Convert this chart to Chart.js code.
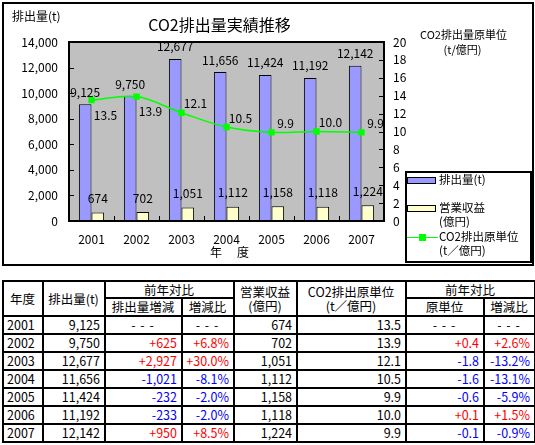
<!DOCTYPE html>
<html lang="ja">
<head>
<meta charset="utf-8">
<title>CO2排出量実績推移</title>
<script src="https://cdn.jsdelivr.net/npm/chart.js@4.4.1/dist/chart.umd.min.js"></script>
<style>
  body { margin: 0; background: #fff; font-family: "Noto Sans CJK JP", sans-serif; }
  #wrap { position: relative; width: 535px; height: 445px; }
  #chart { position: absolute; left: 0; top: 0; }
  table {
    position: absolute; left: 2px; top: 280px; width: 532px;
    border-collapse: separate; border-spacing: 0; table-layout: fixed;
    border-left: 2px solid #000; border-top: 2px solid #000;
    font-size: 12.5px; color: #000;
  }
  td, th {
    border-right: 2px solid #000; border-bottom: 2px solid #000;
    padding: 0 4px 0 3px; line-height: 14px; font-weight: normal;
    white-space: nowrap; text-align: right;
  }
  th { text-align: center; }
  tr { height: 18px; }
  tr.h1 { height: 17px; }
  td.year { text-align: left; }
  td.none { text-align: center; letter-spacing: 1px; }
  .up { color: #ff0000; }
  .down { color: #0000ff; }
</style>
</head>
<body>
<div id="wrap">
  <canvas id="chart" width="535" height="270"></canvas>
  <table id="tbl">
    <colgroup>
      <col style="width:40px"><col style="width:62px"><col style="width:77px"><col style="width:52px">
      <col style="width:63px"><col style="width:109px"><col style="width:78px"><col style="width:51px">
    </colgroup>
    <thead>
      <tr class="h1">
        <th rowspan="2">年度</th>
        <th rowspan="2">排出量(t)</th>
        <th colspan="2">前年対比</th>
        <th rowspan="2">営業収益<br>(億円)</th>
        <th rowspan="2">CO2排出原単位<br>(t／億円)</th>
        <th colspan="2">前年対比</th>
      </tr>
      <tr>
        <th>排出量増減</th><th>増減比</th><th>原単位</th><th>増減比</th>
      </tr>
    </thead>
    <tbody id="rows"></tbody>
  </table>
</div>
<script>
const years = ['2001', '2002', '2003', '2004', '2005', '2006', '2007'];
const emissions = [9125, 9750, 12677, 11656, 11424, 11192, 12142];
const sales = [674, 702, 1051, 1112, 1158, 1118, 1224];
const rates = [13.5, 13.9, 12.1, 10.5, 9.9, 10.0, 9.9];
const emissionsDiff = ['', '+625', '+2,927', '-1,021', '-232', '-233', '+950'];
const emissionsRatio = ['', '+6.8%', '+30.0%', '-8.1%', '-2.0%', '-2.0%', '+8.5%'];
const rateDiff = ['', '+0.4', '-1.8', '-1.6', '-0.6', '+0.1', '-0.1'];
const rateRatio = ['', '+2.6%', '-13.2%', '-13.1%', '-5.9%', '+1.5%', '-0.9%'];
const leftTicks = [0, 2000, 4000, 6000, 8000, 10000, 12000, 14000];
const rightTicks = [0, 2, 4, 6, 8, 10, 12, 14, 16, 18, 20];

const fmt = v => v.toLocaleString('en-US');

// table
const tbody = document.getElementById('rows');
function changeCell(s) {
  if (!s) return '<td class="none">- - -</td>';
  return `<td class="${s[0] === '+' ? 'up' : 'down'}">${s}</td>`;
}
years.forEach((y, i) => {
  const tr = document.createElement('tr');
  tr.innerHTML = `<td class="year">${y}</td><td>${fmt(emissions[i])}</td>` +
    changeCell(emissionsDiff[i]) + changeCell(emissionsRatio[i]) +
    `<td>${fmt(sales[i])}</td><td>${rates[i].toFixed(1)}</td>` +
    changeCell(rateDiff[i]) + changeCell(rateRatio[i]);
  tbody.appendChild(tr);
});

// chart
Chart.defaults.font.family = '"Noto Sans CJK JP", sans-serif';
Chart.defaults.font.size = 12;
Chart.defaults.color = '#000';

function text(ctx, s, x, y, size, align) {
  ctx.font = size + 'px "Noto Sans CJK JP", sans-serif';
  ctx.textAlign = align || 'center';
  ctx.textBaseline = 'middle';
  ctx.fillText(s, x, y);
}

const decor = {
  id: 'decor',
  beforeDraw(chart) {
    const { ctx, chartArea: a } = chart;
    ctx.save();
    ctx.fillStyle = '#fff';
    ctx.fillRect(0, 0, chart.width, chart.height);
    ctx.fillStyle = '#c0c0c0';
    ctx.fillRect(a.left, a.top, a.right - a.left, a.bottom - a.top);
    ctx.restore();
  },
  beforeDatasetsDraw(chart) {
    const { ctx, chartArea: a, scales } = chart;
    ctx.save();
    ctx.strokeStyle = '#000';
    ctx.lineWidth = 1;
    ctx.beginPath();
    scales.y.ticks.forEach(t => {
      const y = Math.round(scales.y.getPixelForValue(t.value)) + 0.5;
      ctx.moveTo(a.left, y); ctx.lineTo(a.left + 5, y);
    });
    scales.y1.ticks.forEach(t => {
      const y = Math.round(scales.y1.getPixelForValue(t.value)) + 0.5;
      ctx.moveTo(a.right - 5, y); ctx.lineTo(a.right, y);
    });
    for (let i = 1; i < years.length; i++) {
      const x = Math.round((scales.x.getPixelForTick(i - 1) + scales.x.getPixelForTick(i)) / 2) + 0.5;
      ctx.moveTo(x, a.bottom); ctx.lineTo(x, a.bottom - 5);
    }
    ctx.stroke();
    ctx.lineWidth = 2;
    ctx.strokeRect(a.left, a.top, a.right - a.left, a.bottom - a.top);
    ctx.restore();
  },
  afterDatasetsDraw(chart) {
    const { ctx } = chart;
    const bars = chart.getDatasetMeta(0).data;
    const salesBars = chart.getDatasetMeta(1).data;
    const pts = chart.getDatasetMeta(2).data;
    ctx.save();
    ctx.fillStyle = '#000';
    bars.forEach((b, i) => text(ctx, fmt(emissions[i]), b.x, b.y - 12, 12));
    salesBars.forEach((b, i) => text(ctx, fmt(sales[i]), b.x, b.y - 14, 12));
    pts.forEach((p, i) => {
      const dy = p.y < bars[i].y + 10 ? 15 : -9;
      text(ctx, rates[i].toFixed(1), p.x + 14, p.y + dy, 12);
    });
    ctx.restore();
  },
  afterDraw(chart) {
    const { ctx } = chart;
    ctx.save();
    ctx.fillStyle = '#000';
    ctx.strokeStyle = '#000';
    // outer frame
    ctx.lineWidth = 2;
    ctx.strokeRect(3, 3, 530, 262);
    // titles
    text(ctx, 'CO2排出量実績推移', 219.5, 24.5, 16);
    text(ctx, '排出量(t)', 12, 16.5, 12, 'left');
    text(ctx, 'CO2排出量原単位', 463.5, 35, 11);
    text(ctx, '(t/億円)', 462.5, 50, 11);
    text(ctx, '年', 216, 252, 12);
    text(ctx, '度', 243, 252, 12);
    // legend
    ctx.lineWidth = 2;
    ctx.strokeRect(406, 172, 125, 90);
    const ds = chart.data.datasets;
    const rowY = [180, 208, 237];
    ds.forEach((d, i) => {
      const y = rowY[i];
      ctx.lineWidth = 1;
      if (d.type === 'line') {
        ctx.strokeStyle = d.borderColor;
        ctx.beginPath();
        ctx.moveTo(407, y + 0.5); ctx.lineTo(438, y + 0.5);
        ctx.stroke();
        ctx.fillStyle = d.pointBackgroundColor;
        ctx.fillRect(419, y - 3, 7, 7);
      } else {
        ctx.fillStyle = d.backgroundColor;
        ctx.fillRect(407, y - 3, 28, 6);
        ctx.strokeStyle = '#000';
        ctx.strokeRect(407.5, y - 2.5, 28, 6);
      }
      ctx.fillStyle = '#000';
      const lines = Array.isArray(d.label) ? d.label : [d.label];
      lines.forEach((l, k) => text(ctx, l, 439, y + k * 14, 11.5, 'left'));
    });
    ctx.restore();
  }
};

new Chart(document.getElementById('chart'), {
  type: 'bar',
  data: {
    labels: years,
    datasets: [
      {
        label: '排出量(t)', data: emissions, yAxisID: 'y',
        backgroundColor: '#9999ff', borderColor: '#000', borderWidth: 1, borderSkipped: false,
        categoryPercentage: 0.56, barPercentage: 1, order: 2
      },
      {
        label: ['営業収益', '(億円)'], data: sales, yAxisID: 'y',
        backgroundColor: '#ffffcc', borderColor: '#000', borderWidth: 1, borderSkipped: false,
        categoryPercentage: 0.56, barPercentage: 1, order: 2
      },
      {
        type: 'line', label: ['CO2排出原単位', '(t／億円)'], data: rates, yAxisID: 'y1',
        borderColor: '#00ff00', borderWidth: 1.5, tension: 0.33,
        pointStyle: 'rect', pointRadius: 4.5, pointBorderWidth: 0,
        pointBackgroundColor: '#00ff00', pointBorderColor: '#00ff00', order: 0
      }
    ]
  },
  options: {
    responsive: false,
    animation: false,
    events: [],
    layout: { padding: { top: 42, left: 0, right: 0, bottom: 0 } },
    plugins: { legend: { display: false }, tooltip: { enabled: false } },
    scales: {
      x: {
        grid: { display: false, drawTicks: false },
        border: { display: false },
        ticks: { padding: 11, font: { size: 12 }, maxRotation: 0 },
        afterFit(s) { s.height = 49; }
      },
      y: {
        position: 'left', min: leftTicks[0], max: leftTicks[leftTicks.length - 1],
        grid: { display: false, drawTicks: false },
        border: { display: false },
        afterBuildTicks(s) { s.ticks = leftTicks.map(v => ({ value: v })); },
        ticks: { padding: 11, autoSkip: false, callback: v => fmt(v) },
        afterFit(s) { s.width = 69; }
      },
      y1: {
        position: 'right', min: rightTicks[0], max: rightTicks[rightTicks.length - 1],
        grid: { display: false, drawTicks: false },
        border: { display: false },
        afterBuildTicks(s) { s.ticks = rightTicks.map(v => ({ value: v })); },
        ticks: { padding: 9, autoSkip: false },
        afterFit(s) { s.width = 151; }
      }
    }
  },
  plugins: [decor]
});
</script>
</body>
</html>
